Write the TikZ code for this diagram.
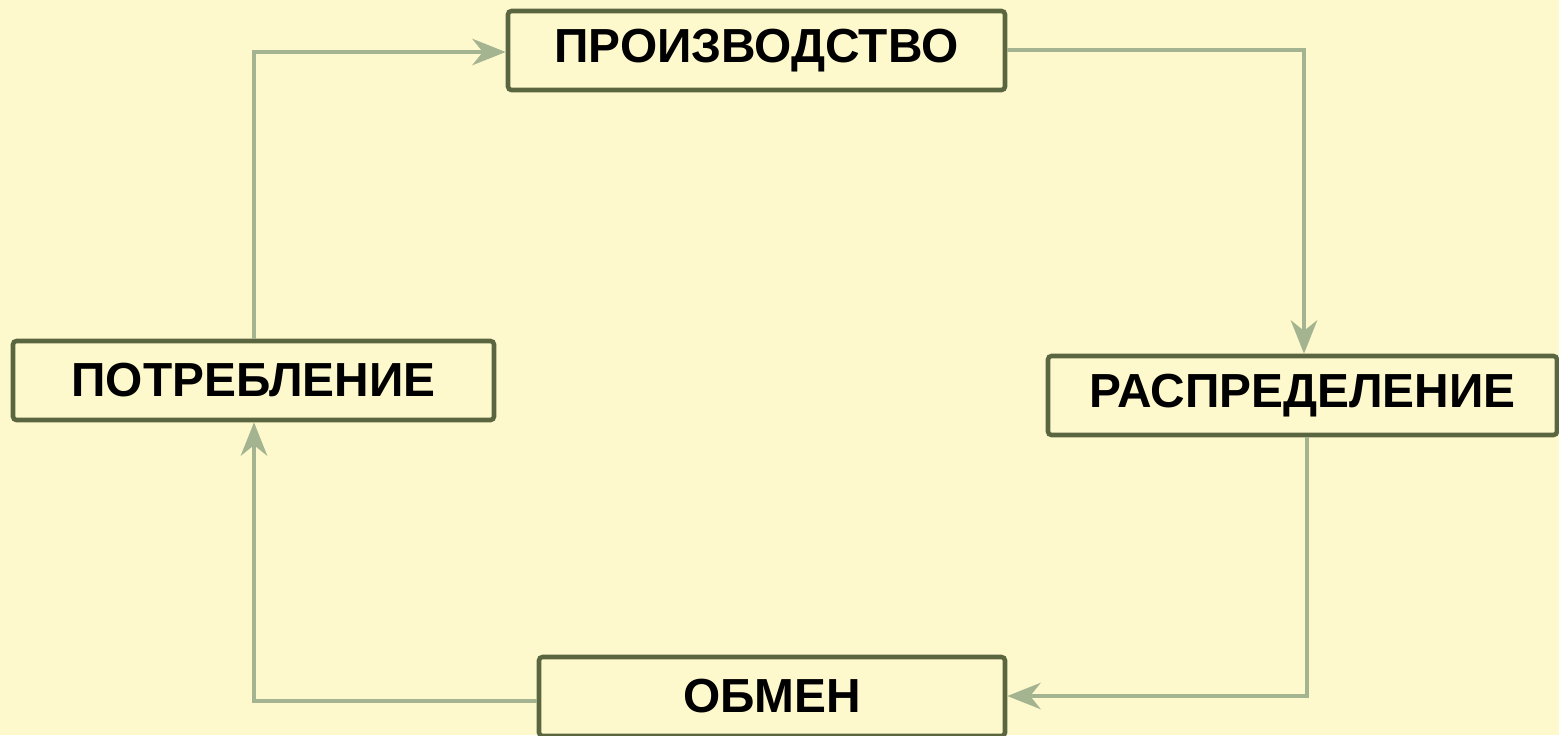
\documentclass[tikz,border=0pt]{standalone}
\usepackage{fontspec}
\setmainfont{Liberation Sans}
\usetikzlibrary{arrows.meta}
\definecolor{bg}{HTML}{FEF9CC}
\definecolor{boxc}{HTML}{5A6640}
\definecolor{arrc}{HTML}{A4B491}
\begin{document}
\begin{tikzpicture}[x=0.01cm,y=-0.01cm,
  stagebox/.style={draw=boxc,line width=1.3pt,rounded corners=1pt,fill=bg,inner sep=0pt,
    font=\fontsize{13.6}{16}\selectfont\bfseries,text=black},
  flow/.style={draw=arrc,line width=1.15pt,-{Stealth[length=9.5pt,width=7.5pt,inset=3pt]}}]
\fill[bg] (0,0) rectangle (1559,735);
\useasboundingbox (0,0) rectangle (1559,735);
\node[stagebox,minimum width=497*0.01cm,minimum height=79*0.01cm] (pr) at (756.5,50.5) {ПРОИЗВОДСТВО};
\node[stagebox,minimum width=481*0.01cm,minimum height=79*0.01cm] (po) at (253.5,380.5) {ПОТРЕБЛЕНИЕ};
\node[stagebox,minimum width=509*0.01cm,minimum height=79*0.01cm] (ra) at (1302.5,395.5) {РАСПРЕДЕЛЕНИЕ};
\node[stagebox,minimum width=466*0.01cm,minimum height=79*0.01cm] (ob) at (772,696.5) {ОБМЕН};
\coordinate (c1) at (254,52);
\coordinate (c2) at (1304,50);
\coordinate (c3) at (1307,696);
\coordinate (c4) at (254,701);
\draw[flow] (po.north -| c1) -- (c1) -- (c1 -| pr.west);
\draw[flow] (c2 -| pr.east) -- (c2) -- (c2 |- ra.north);
\draw[flow] (c3 |- ra.south) -- (c3) -- (c3 -| ob.east);
\draw[flow] (c4 -| ob.west) -- (c4) -- (c4 |- po.south);
\end{tikzpicture}
\end{document}
